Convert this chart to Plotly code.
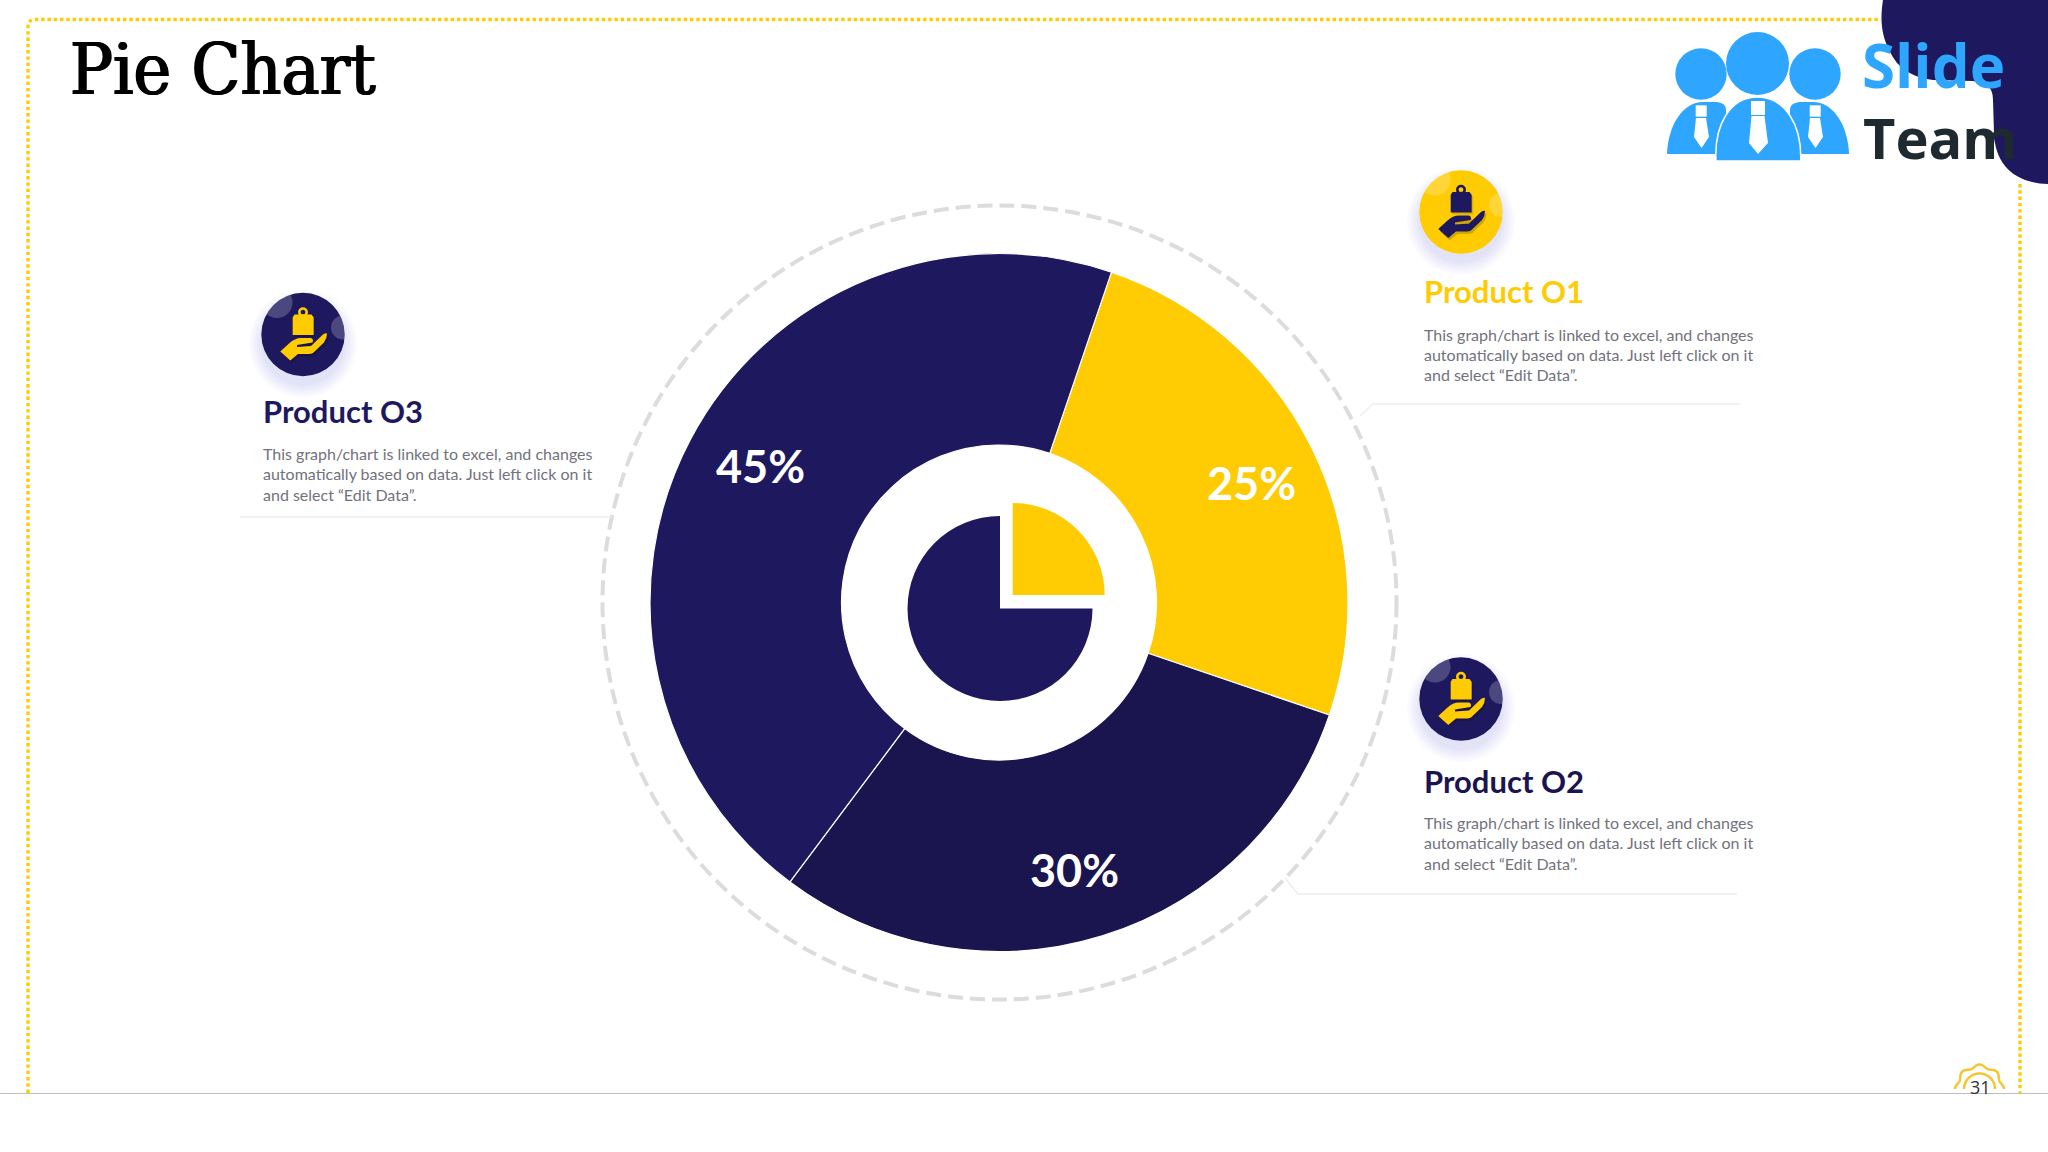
import re

import numpy as np
import plotly.graph_objs as go

W, H = 2048, 1152

# chart data
categories = ["Product O1", "Product O2", "Product O3"]
shares = [25, 30, 45]
slice_colors = ["#FFCC04", "#1A144F", "#1E195F"]
title_colors = ["#FFCC04", "#1A144F", "#1E195F"]
desc_lines = [
    "This graph/chart is linked to excel, and changes",
    "automatically based on data. Just left click on it",
    "and select “Edit Data”.",
]

# small pie drawn in the hole of the big one
mini_navy = [75, 25]
mini_yellow = [25, 75]

NAVY = "#1E195F"
YELLOW = "#FFCC04"
BLUE = "#2EA6FF"
GRAY_TEXT = "#72727C"


def px(x):
    return x / W


def py(y):
    return 1 - y / H


def to_path(s):
    # pixel path string -> paper coordinates
    out, i = [], 0
    for tok in s.split():
        if re.fullmatch(r"[A-Za-z]", tok):
            out.append(tok)
        else:
            v = float(tok)
            out.append(f"{px(v):.5f}" if i % 2 == 0 else f"{py(v):.5f}")
            i += 1
    return " ".join(out)


shapes = []


def add_path(s, fill=None, color=None, width=0, dash=None):
    line = dict(color=color or "rgba(0,0,0,0)", width=width)
    if dash:
        line["dash"] = dash
    shapes.append(dict(type="path", xref="paper", yref="paper", path=to_path(s),
                       fillcolor=fill or "rgba(0,0,0,0)", line=line))


def add_circle(cx, cy, r, fill=None, color=None, width=0, dash=None):
    line = dict(color=color or "rgba(0,0,0,0)", width=width)
    if dash:
        line["dash"] = dash
    shapes.append(dict(type="circle", xref="paper", yref="paper",
                       x0=px(cx - r), x1=px(cx + r), y0=py(cy + r), y1=py(cy - r),
                       fillcolor=fill or "rgba(0,0,0,0)", line=line))


def shifted(cmds, dx, dy):
    # cmds: list of (letter, x, y ...) in icon-relative pixels
    parts = []
    for c in cmds:
        parts.append(c[0])
        for k, v in enumerate(c[1:]):
            parts.append(str(v + (dx if k % 2 == 0 else dy)))
    return " ".join(parts)


BAG = [("M", -8.5, -20), ("L", 8.5, -20), ("L", 10.7, -17), ("L", 10.7, 0.5), ("L", -10.3, 0.5),
       ("L", -10.3, -17), ("Z",)]
HAND = [("M", -12.7, 26), ("L", -22.7, 17), ("L", -14, 9), ("Q", -8, 3.5, -2, 3.5), ("L", 8, 3.5),
        ("Q", 11, 5, 9.5, 8), ("L", -6, 10.5), ("L", -6, 12.5), ("L", 8, 11.5), ("L", 20, 0),
        ("Q", 23, -2, 24, -1), ("Q", 24, 4, 21, 8), ("L", 10, 18.5), ("Q", 8, 19.5, 6, 19.5),
        ("L", -5, 19.5), ("Z",)]


def lens(cx, cy, hx, hy, hr, R):
    # part of the highlight circle that stays inside the badge
    pts = []
    for a in np.linspace(0, 2 * np.pi, 72, endpoint=False):
        ux, uy = np.cos(a), np.sin(a)
        b = hx * ux + hy * uy
        c = hx * hx + hy * hy - R * R
        t = -b + np.sqrt(b * b - c)
        d = min(hr, t)
        pts.append((cx + hx + d * ux, cy + hy + d * uy))
    s = "M " + " L ".join(f"{x:.2f} {y:.2f}" for x, y in pts) + " Z"
    return s


def add_icon(cx, cy, bg, fg):
    R = 41.7
    for r in range(54, 40, -2):
        add_circle(cx, cy + 9, r, fill="rgba(96,96,225,0.022)")
    add_circle(cx, cy, R, fill=bg)
    add_path(lens(cx, cy, -26, -32, 15.5, R), fill="rgba(255,255,255,0.2)")
    add_path(lens(cx, cy, 40, -7, 12, R), fill="rgba(255,255,255,0.2)")
    add_path(shifted(BAG, cx + 1.5, cy + 2), fill="rgba(0,0,0,0.14)")
    add_path(shifted(HAND, cx + 1.5, cy + 2.5), fill="rgba(0,0,0,0.18)")
    add_circle(cx, cy - 22.3, 3.7, color=fg, width=2.6)
    add_path(shifted(BAG, cx, cy), fill=fg)
    add_path(shifted(HAND, cx, cy), fill=fg)


# dotted frame
DOT = "3.4px,2.9px"
add_path("M 28 1093 L 28 27 Q 28 19.5 35 19.5 L 1881 19.5", color=YELLOW, width=3.4, dash=DOT)
add_path("M 2020 184 L 2020 1093", color=YELLOW, width=3.4, dash=DOT)

# navy corner
add_path("M 1883 0 C 1880 20 1880 40 1897 63 C 1908 75 1920 78 1933 80 L 1973 81 "
         "C 1988 83 1993 88 1993 100 L 1994 133 C 1995 165 2015 183 2048 184 L 2048 0 Z", fill=NAVY)

# logo
add_circle(1701, 74, 25.7, fill=BLUE)
add_circle(1815, 74, 25.7, fill=BLUE)
add_circle(1757.5, 63.5, 31.5, fill=BLUE)
for off, sign in ((0, 1), (2 * 1758, -1)):
    xs = [off + sign * v for v in (1667, 1668, 1683, 1717, 1726, 1726)]
    add_path(f"M {xs[0]} 154 C {xs[1]} 125 {xs[2]} 102 {off + sign * 1703} 102 "
             f"L {xs[3]} 102 Q {xs[4]} 103 {xs[5]} 110 L {xs[5]} 154 Z", fill=BLUE)
add_path("M 1716 161 C 1714 125 1730 97 1757.5 97 C 1785 97 1802 125 1800.7 161 Z",
         fill=BLUE, color="white", width=1.5)
add_path("M 1751 101 L 1765 101 L 1765 115 L 1751 115 Z", fill="white")
add_path("M 1751.5 116 L 1764.5 116 L 1768 143 L 1758 154 L 1749 143 Z", fill="white")
for dx in (0, 114):
    add_path(f"M {1695.7 + dx} 105.3 L {1706.7 + dx} 105.3 L {1706.7 + dx} 116.7 L {1695.7 + dx} 116.7 Z",
             fill="white")
    add_path(f"M {1696 + dx} 118 L {1706 + dx} 118 L {1709 + dx} 137 L {1701.5 + dx} 148 L {1694 + dx} 137 Z",
             fill="white")

# ring and leader lines
PIE_CX, PIE_CY = 999.5, 602.5
add_circle(PIE_CX, PIE_CY, 397, color="#DCDCDE", width=4, dash="15px,7px")
LEADER = "#EEEEF1"
add_path("M 1360 416 L 1373 404 L 1740 404", color=LEADER, width=1.5)
add_path("M 1285 878 L 1298 894 L 1737 894", color=LEADER, width=1.5)
add_path("M 240 517 L 612 517", color=LEADER, width=1.5)

# product badges
add_icon(1461, 212, YELLOW, NAVY)
add_icon(1461, 699, NAVY, YELLOW)
add_icon(303, 334.5, NAVY, YELLOW)

# page number badge
th = np.linspace(-np.pi, 0, 161)
rb = 23 + 1.5 * np.cos(8 * (th + np.pi / 2))
bx = 1979.5 + rb * np.cos(th)
by = 1089 + rb * np.sin(th)
keep = by < 1093
add_path("M " + " L ".join(f"{x:.2f} {y:.2f}" for x, y in zip(bx[keep], by[keep])),
         color="#F5C630", width=2.5)
ix = 1979.5 + 15.5 * np.cos(th)
iy = 1089 + 15.5 * np.sin(th)
keep = iy < 1093
add_path("M " + " L ".join(f"{x:.2f} {y:.2f}" for x, y in zip(ix[keep], iy[keep])),
         color="#F5C630", width=2.5)

# bottom strip
add_path("M 0 1093.5 L 2048 1093.5", color="#BDBDBD", width=1.2)

annotations = []


def add_text(text, x, base, size, color, family="Lato", bold=False, anchor="left", shadow=None):
    # base is roughly the pixel baseline of the text
    font = dict(family=family, size=size, color=color)
    if shadow:
        font["shadow"] = shadow
    annotations.append(dict(
        text=f"<b>{text}</b>" if bold else text, xref="paper", yref="paper", showarrow=False,
        x=px(x), y=py(base - 0.3 * size), xanchor=anchor, yanchor="middle", align=anchor,
        borderpad=0, font=font))


add_text("Pie Chart", 68.5, 91, 71, "#000000", family="DejaVu Serif Condensed",
         shadow="0.9px 0 0 #000, -0.9px 0 0 #000")
add_text("Slide", 1861, 83.5, 60, BLUE, family="Open Sans", bold=True)
add_text("Team", 1862, 154, 56, "#1F2A30", family="Open Sans", bold=True)
add_text("31", 1980, 1092, 18, "#333333", family="Open Sans", anchor="center")

text_pos = {"Product O1": (1423, 300.5, 339), "Product O2": (1423, 790.5, 827), "Product O3": (262, 420.5, 458)}
for cat, col in zip(categories, title_colors):
    tx, tb, db = text_pos[cat]
    add_text(cat, tx, tb, 31, col, bold=True)
    for j, ln in enumerate(desc_lines):
        add_text(ln, tx, db + j * 20.4, 16, GRAY_TEXT)

label_pos = [(1251, 482.5), (1074, 870), (760, 466)]
for v, (lx, ly) in zip(shares, label_pos):
    annotations.append(dict(text=f"<b>{v}%</b>", xref="paper", yref="paper", showarrow=False,
                            x=px(lx), y=py(ly), xanchor="center", yanchor="middle",
                            font=dict(family="Lato", size=45, color="white")))


def pie_domain(cx, cy, r):
    return dict(x=[px(cx - r), px(cx + r)], y=[py(cy + r), py(cy - r)])


fig = go.Figure()
fig.add_trace(go.Pie(labels=categories, values=shares, sort=False, direction="clockwise", rotation=18.8,
                     hole=157.5 / 349, domain=pie_domain(PIE_CX - 0.5, PIE_CY, 349), textinfo="none",
                     marker=dict(colors=slice_colors, line=dict(color="white", width=1.2)),
                     showlegend=False, hoverinfo="label+percent"))
fig.add_trace(go.Pie(values=mini_navy, sort=False, direction="clockwise", rotation=90,
                     domain=pie_domain(1000, 608.5, 92.5), textinfo="none",
                     marker=dict(colors=[NAVY, "rgba(0,0,0,0)"], line=dict(width=0)),
                     showlegend=False, hoverinfo="skip"))
fig.add_trace(go.Pie(values=mini_yellow, sort=False, direction="clockwise", rotation=0,
                     domain=pie_domain(1012.7, 595, 92), textinfo="none",
                     marker=dict(colors=[YELLOW, "rgba(0,0,0,0)"], line=dict(width=0)),
                     showlegend=False, hoverinfo="skip"))

fig.update_layout(width=W, height=H, margin=dict(l=0, r=0, t=0, b=0), autosize=False,
                  paper_bgcolor="white", plot_bgcolor="white", shapes=shapes, annotations=annotations)
fig.write_html("out.html", config={"displayModeBar": False}, post_script="document.body.style.margin='0';")
